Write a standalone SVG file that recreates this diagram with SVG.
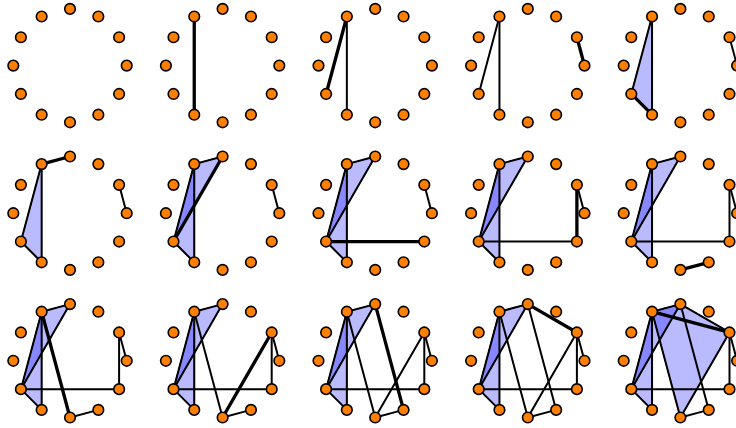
<svg xmlns="http://www.w3.org/2000/svg" width="736" height="428" viewBox="0 0 736 428">
<style>
.tri{fill:#0000ff;fill-opacity:0.27;stroke:#000;stroke-width:1;stroke-linejoin:round}
.e{stroke:#000;stroke-width:2;fill:none;stroke-linecap:round}
.e.new{stroke-width:3.3}
.node circle{fill:#ff8000;stroke:#000;stroke-width:1.6}
</style>
<rect width="736" height="428" fill="#fff"/>
<defs>
<polygon id="t1" points="-28.35,-49.1 -49.1,28.35 -28.35,49.1"/>
<polygon id="t2" points="0,-56.7 -28.35,-49.1 -49.1,28.35"/>
<polygon id="t3" points="0,-56.7 -28.35,-49.1 49.1,-28.35"/>
<polygon id="t4" points="-28.35,-49.1 0,56.7 49.1,-28.35"/>
<path id="e1" d="M-28.35 -49.1L-28.35 49.1"/>
<path id="e2" d="M-28.35 -49.1L-49.1 28.35"/>
<path id="e3" d="M49.1 -28.35L56.7 0"/>
<path id="e4" d="M-49.1 28.35L-28.35 49.1"/>
<path id="e5" d="M-28.35 -49.1L0 -56.7"/>
<path id="e6" d="M0 -56.7L-49.1 28.35"/>
<path id="e7" d="M-49.1 28.35L49.1 28.35"/>
<path id="e8" d="M49.1 -28.35L49.1 28.35"/>
<path id="e9" d="M0 56.7L28.35 49.1"/>
<path id="e10" d="M-28.35 -49.1L0 56.7"/>
<path id="e11" d="M49.1 -28.35L0 56.7"/>
<path id="e12" d="M0 -56.7L28.35 49.1"/>
<path id="e13" d="M0 -56.7L49.1 -28.35"/>
<path id="e14" d="M-28.35 -49.1L49.1 -28.35"/>
</defs>

<g id="panel1" transform="translate(70,65.6)">
<g id="p1-n0" class="node"><circle cx="0" cy="-56.7" r="5.3"/></g>
<g id="p1-n1" class="node"><circle cx="-28.35" cy="-49.1" r="5.3"/></g>
<g id="p1-n2" class="node"><circle cx="-49.1" cy="-28.35" r="5.3"/></g>
<g id="p1-n3" class="node"><circle cx="-56.7" cy="0" r="5.3"/></g>
<g id="p1-n4" class="node"><circle cx="-49.1" cy="28.35" r="5.3"/></g>
<g id="p1-n5" class="node"><circle cx="-28.35" cy="49.1" r="5.3"/></g>
<g id="p1-n6" class="node"><circle cx="0" cy="56.7" r="5.3"/></g>
<g id="p1-n7" class="node"><circle cx="28.35" cy="49.1" r="5.3"/></g>
<g id="p1-n8" class="node"><circle cx="49.1" cy="28.35" r="5.3"/></g>
<g id="p1-n9" class="node"><circle cx="56.7" cy="0" r="5.3"/></g>
<g id="p1-n10" class="node"><circle cx="49.1" cy="-28.35" r="5.3"/></g>
<g id="p1-n11" class="node"><circle cx="28.35" cy="-49.1" r="5.3"/></g>
</g>

<g id="panel2" transform="translate(222.6,65.6)">
<g id="p2-edges" class="connectors">
<use href="#e1" class="e new"/>
</g>
<g id="p2-n0" class="node"><circle cx="0" cy="-56.7" r="5.3"/></g>
<g id="p2-n1" class="node"><circle cx="-28.35" cy="-49.1" r="5.3"/></g>
<g id="p2-n2" class="node"><circle cx="-49.1" cy="-28.35" r="5.3"/></g>
<g id="p2-n3" class="node"><circle cx="-56.7" cy="0" r="5.3"/></g>
<g id="p2-n4" class="node"><circle cx="-49.1" cy="28.35" r="5.3"/></g>
<g id="p2-n5" class="node"><circle cx="-28.35" cy="49.1" r="5.3"/></g>
<g id="p2-n6" class="node"><circle cx="0" cy="56.7" r="5.3"/></g>
<g id="p2-n7" class="node"><circle cx="28.35" cy="49.1" r="5.3"/></g>
<g id="p2-n8" class="node"><circle cx="49.1" cy="28.35" r="5.3"/></g>
<g id="p2-n9" class="node"><circle cx="56.7" cy="0" r="5.3"/></g>
<g id="p2-n10" class="node"><circle cx="49.1" cy="-28.35" r="5.3"/></g>
<g id="p2-n11" class="node"><circle cx="28.35" cy="-49.1" r="5.3"/></g>
</g>

<g id="panel3" transform="translate(375.2,65.6)">
<g id="p3-edges" class="connectors">
<use href="#e1" class="e"/>
<use href="#e2" class="e new"/>
</g>
<g id="p3-n0" class="node"><circle cx="0" cy="-56.7" r="5.3"/></g>
<g id="p3-n1" class="node"><circle cx="-28.35" cy="-49.1" r="5.3"/></g>
<g id="p3-n2" class="node"><circle cx="-49.1" cy="-28.35" r="5.3"/></g>
<g id="p3-n3" class="node"><circle cx="-56.7" cy="0" r="5.3"/></g>
<g id="p3-n4" class="node"><circle cx="-49.1" cy="28.35" r="5.3"/></g>
<g id="p3-n5" class="node"><circle cx="-28.35" cy="49.1" r="5.3"/></g>
<g id="p3-n6" class="node"><circle cx="0" cy="56.7" r="5.3"/></g>
<g id="p3-n7" class="node"><circle cx="28.35" cy="49.1" r="5.3"/></g>
<g id="p3-n8" class="node"><circle cx="49.1" cy="28.35" r="5.3"/></g>
<g id="p3-n9" class="node"><circle cx="56.7" cy="0" r="5.3"/></g>
<g id="p3-n10" class="node"><circle cx="49.1" cy="-28.35" r="5.3"/></g>
<g id="p3-n11" class="node"><circle cx="28.35" cy="-49.1" r="5.3"/></g>
</g>

<g id="panel4" transform="translate(527.8,65.6)">
<g id="p4-edges" class="connectors">
<use href="#e1" class="e"/>
<use href="#e2" class="e"/>
<use href="#e3" class="e new"/>
</g>
<g id="p4-n0" class="node"><circle cx="0" cy="-56.7" r="5.3"/></g>
<g id="p4-n1" class="node"><circle cx="-28.35" cy="-49.1" r="5.3"/></g>
<g id="p4-n2" class="node"><circle cx="-49.1" cy="-28.35" r="5.3"/></g>
<g id="p4-n3" class="node"><circle cx="-56.7" cy="0" r="5.3"/></g>
<g id="p4-n4" class="node"><circle cx="-49.1" cy="28.35" r="5.3"/></g>
<g id="p4-n5" class="node"><circle cx="-28.35" cy="49.1" r="5.3"/></g>
<g id="p4-n6" class="node"><circle cx="0" cy="56.7" r="5.3"/></g>
<g id="p4-n7" class="node"><circle cx="28.35" cy="49.1" r="5.3"/></g>
<g id="p4-n8" class="node"><circle cx="49.1" cy="28.35" r="5.3"/></g>
<g id="p4-n9" class="node"><circle cx="56.7" cy="0" r="5.3"/></g>
<g id="p4-n10" class="node"><circle cx="49.1" cy="-28.35" r="5.3"/></g>
<g id="p4-n11" class="node"><circle cx="28.35" cy="-49.1" r="5.3"/></g>
</g>

<g id="panel5" transform="translate(680.4,65.6)">
<g id="p5-faces"><use href="#t1" class="tri"/></g>
<g id="p5-edges" class="connectors">
<use href="#e1" class="e"/>
<use href="#e2" class="e"/>
<use href="#e3" class="e"/>
<use href="#e4" class="e new"/>
</g>
<g id="p5-n0" class="node"><circle cx="0" cy="-56.7" r="5.3"/></g>
<g id="p5-n1" class="node"><circle cx="-28.35" cy="-49.1" r="5.3"/></g>
<g id="p5-n2" class="node"><circle cx="-49.1" cy="-28.35" r="5.3"/></g>
<g id="p5-n3" class="node"><circle cx="-56.7" cy="0" r="5.3"/></g>
<g id="p5-n4" class="node"><circle cx="-49.1" cy="28.35" r="5.3"/></g>
<g id="p5-n5" class="node"><circle cx="-28.35" cy="49.1" r="5.3"/></g>
<g id="p5-n6" class="node"><circle cx="0" cy="56.7" r="5.3"/></g>
<g id="p5-n7" class="node"><circle cx="28.35" cy="49.1" r="5.3"/></g>
<g id="p5-n8" class="node"><circle cx="49.1" cy="28.35" r="5.3"/></g>
<g id="p5-n9" class="node"><circle cx="56.7" cy="0" r="5.3"/></g>
<g id="p5-n10" class="node"><circle cx="49.1" cy="-28.35" r="5.3"/></g>
<g id="p5-n11" class="node"><circle cx="28.35" cy="-49.1" r="5.3"/></g>
</g>

<g id="panel6" transform="translate(70,213.2)">
<g id="p6-faces"><use href="#t1" class="tri"/></g>
<g id="p6-edges" class="connectors">
<use href="#e1" class="e"/>
<use href="#e2" class="e"/>
<use href="#e3" class="e"/>
<use href="#e4" class="e"/>
<use href="#e5" class="e new"/>
</g>
<g id="p6-n0" class="node"><circle cx="0" cy="-56.7" r="5.3"/></g>
<g id="p6-n1" class="node"><circle cx="-28.35" cy="-49.1" r="5.3"/></g>
<g id="p6-n2" class="node"><circle cx="-49.1" cy="-28.35" r="5.3"/></g>
<g id="p6-n3" class="node"><circle cx="-56.7" cy="0" r="5.3"/></g>
<g id="p6-n4" class="node"><circle cx="-49.1" cy="28.35" r="5.3"/></g>
<g id="p6-n5" class="node"><circle cx="-28.35" cy="49.1" r="5.3"/></g>
<g id="p6-n6" class="node"><circle cx="0" cy="56.7" r="5.3"/></g>
<g id="p6-n7" class="node"><circle cx="28.35" cy="49.1" r="5.3"/></g>
<g id="p6-n8" class="node"><circle cx="49.1" cy="28.35" r="5.3"/></g>
<g id="p6-n9" class="node"><circle cx="56.7" cy="0" r="5.3"/></g>
<g id="p6-n10" class="node"><circle cx="49.1" cy="-28.35" r="5.3"/></g>
<g id="p6-n11" class="node"><circle cx="28.35" cy="-49.1" r="5.3"/></g>
</g>

<g id="panel7" transform="translate(222.6,213.2)">
<g id="p7-faces"><use href="#t1" class="tri"/><use href="#t2" class="tri"/></g>
<g id="p7-edges" class="connectors">
<use href="#e1" class="e"/>
<use href="#e2" class="e"/>
<use href="#e3" class="e"/>
<use href="#e4" class="e"/>
<use href="#e5" class="e"/>
<use href="#e6" class="e new"/>
</g>
<g id="p7-n0" class="node"><circle cx="0" cy="-56.7" r="5.3"/></g>
<g id="p7-n1" class="node"><circle cx="-28.35" cy="-49.1" r="5.3"/></g>
<g id="p7-n2" class="node"><circle cx="-49.1" cy="-28.35" r="5.3"/></g>
<g id="p7-n3" class="node"><circle cx="-56.7" cy="0" r="5.3"/></g>
<g id="p7-n4" class="node"><circle cx="-49.1" cy="28.35" r="5.3"/></g>
<g id="p7-n5" class="node"><circle cx="-28.35" cy="49.1" r="5.3"/></g>
<g id="p7-n6" class="node"><circle cx="0" cy="56.7" r="5.3"/></g>
<g id="p7-n7" class="node"><circle cx="28.35" cy="49.1" r="5.3"/></g>
<g id="p7-n8" class="node"><circle cx="49.1" cy="28.35" r="5.3"/></g>
<g id="p7-n9" class="node"><circle cx="56.7" cy="0" r="5.3"/></g>
<g id="p7-n10" class="node"><circle cx="49.1" cy="-28.35" r="5.3"/></g>
<g id="p7-n11" class="node"><circle cx="28.35" cy="-49.1" r="5.3"/></g>
</g>

<g id="panel8" transform="translate(375.2,213.2)">
<g id="p8-faces"><use href="#t1" class="tri"/><use href="#t2" class="tri"/></g>
<g id="p8-edges" class="connectors">
<use href="#e1" class="e"/>
<use href="#e2" class="e"/>
<use href="#e3" class="e"/>
<use href="#e4" class="e"/>
<use href="#e5" class="e"/>
<use href="#e6" class="e"/>
<use href="#e7" class="e new"/>
</g>
<g id="p8-n0" class="node"><circle cx="0" cy="-56.7" r="5.3"/></g>
<g id="p8-n1" class="node"><circle cx="-28.35" cy="-49.1" r="5.3"/></g>
<g id="p8-n2" class="node"><circle cx="-49.1" cy="-28.35" r="5.3"/></g>
<g id="p8-n3" class="node"><circle cx="-56.7" cy="0" r="5.3"/></g>
<g id="p8-n4" class="node"><circle cx="-49.1" cy="28.35" r="5.3"/></g>
<g id="p8-n5" class="node"><circle cx="-28.35" cy="49.1" r="5.3"/></g>
<g id="p8-n6" class="node"><circle cx="0" cy="56.7" r="5.3"/></g>
<g id="p8-n7" class="node"><circle cx="28.35" cy="49.1" r="5.3"/></g>
<g id="p8-n8" class="node"><circle cx="49.1" cy="28.35" r="5.3"/></g>
<g id="p8-n9" class="node"><circle cx="56.7" cy="0" r="5.3"/></g>
<g id="p8-n10" class="node"><circle cx="49.1" cy="-28.35" r="5.3"/></g>
<g id="p8-n11" class="node"><circle cx="28.35" cy="-49.1" r="5.3"/></g>
</g>

<g id="panel9" transform="translate(527.8,213.2)">
<g id="p9-faces"><use href="#t1" class="tri"/><use href="#t2" class="tri"/></g>
<g id="p9-edges" class="connectors">
<use href="#e1" class="e"/>
<use href="#e2" class="e"/>
<use href="#e3" class="e"/>
<use href="#e4" class="e"/>
<use href="#e5" class="e"/>
<use href="#e6" class="e"/>
<use href="#e7" class="e"/>
<use href="#e8" class="e new"/>
</g>
<g id="p9-n0" class="node"><circle cx="0" cy="-56.7" r="5.3"/></g>
<g id="p9-n1" class="node"><circle cx="-28.35" cy="-49.1" r="5.3"/></g>
<g id="p9-n2" class="node"><circle cx="-49.1" cy="-28.35" r="5.3"/></g>
<g id="p9-n3" class="node"><circle cx="-56.7" cy="0" r="5.3"/></g>
<g id="p9-n4" class="node"><circle cx="-49.1" cy="28.35" r="5.3"/></g>
<g id="p9-n5" class="node"><circle cx="-28.35" cy="49.1" r="5.3"/></g>
<g id="p9-n6" class="node"><circle cx="0" cy="56.7" r="5.3"/></g>
<g id="p9-n7" class="node"><circle cx="28.35" cy="49.1" r="5.3"/></g>
<g id="p9-n8" class="node"><circle cx="49.1" cy="28.35" r="5.3"/></g>
<g id="p9-n9" class="node"><circle cx="56.7" cy="0" r="5.3"/></g>
<g id="p9-n10" class="node"><circle cx="49.1" cy="-28.35" r="5.3"/></g>
<g id="p9-n11" class="node"><circle cx="28.35" cy="-49.1" r="5.3"/></g>
</g>

<g id="panel10" transform="translate(680.4,213.2)">
<g id="p10-faces"><use href="#t1" class="tri"/><use href="#t2" class="tri"/></g>
<g id="p10-edges" class="connectors">
<use href="#e1" class="e"/>
<use href="#e2" class="e"/>
<use href="#e3" class="e"/>
<use href="#e4" class="e"/>
<use href="#e5" class="e"/>
<use href="#e6" class="e"/>
<use href="#e7" class="e"/>
<use href="#e8" class="e"/>
<use href="#e9" class="e new"/>
</g>
<g id="p10-n0" class="node"><circle cx="0" cy="-56.7" r="5.3"/></g>
<g id="p10-n1" class="node"><circle cx="-28.35" cy="-49.1" r="5.3"/></g>
<g id="p10-n2" class="node"><circle cx="-49.1" cy="-28.35" r="5.3"/></g>
<g id="p10-n3" class="node"><circle cx="-56.7" cy="0" r="5.3"/></g>
<g id="p10-n4" class="node"><circle cx="-49.1" cy="28.35" r="5.3"/></g>
<g id="p10-n5" class="node"><circle cx="-28.35" cy="49.1" r="5.3"/></g>
<g id="p10-n6" class="node"><circle cx="0" cy="56.7" r="5.3"/></g>
<g id="p10-n7" class="node"><circle cx="28.35" cy="49.1" r="5.3"/></g>
<g id="p10-n8" class="node"><circle cx="49.1" cy="28.35" r="5.3"/></g>
<g id="p10-n9" class="node"><circle cx="56.7" cy="0" r="5.3"/></g>
<g id="p10-n10" class="node"><circle cx="49.1" cy="-28.35" r="5.3"/></g>
<g id="p10-n11" class="node"><circle cx="28.35" cy="-49.1" r="5.3"/></g>
</g>

<g id="panel11" transform="translate(70,360.8)">
<g id="p11-faces"><use href="#t1" class="tri"/><use href="#t2" class="tri"/></g>
<g id="p11-edges" class="connectors">
<use href="#e1" class="e"/>
<use href="#e2" class="e"/>
<use href="#e3" class="e"/>
<use href="#e4" class="e"/>
<use href="#e5" class="e"/>
<use href="#e6" class="e"/>
<use href="#e7" class="e"/>
<use href="#e8" class="e"/>
<use href="#e9" class="e"/>
<use href="#e10" class="e new"/>
</g>
<g id="p11-n0" class="node"><circle cx="0" cy="-56.7" r="5.3"/></g>
<g id="p11-n1" class="node"><circle cx="-28.35" cy="-49.1" r="5.3"/></g>
<g id="p11-n2" class="node"><circle cx="-49.1" cy="-28.35" r="5.3"/></g>
<g id="p11-n3" class="node"><circle cx="-56.7" cy="0" r="5.3"/></g>
<g id="p11-n4" class="node"><circle cx="-49.1" cy="28.35" r="5.3"/></g>
<g id="p11-n5" class="node"><circle cx="-28.35" cy="49.1" r="5.3"/></g>
<g id="p11-n6" class="node"><circle cx="0" cy="56.7" r="5.3"/></g>
<g id="p11-n7" class="node"><circle cx="28.35" cy="49.1" r="5.3"/></g>
<g id="p11-n8" class="node"><circle cx="49.1" cy="28.35" r="5.3"/></g>
<g id="p11-n9" class="node"><circle cx="56.7" cy="0" r="5.3"/></g>
<g id="p11-n10" class="node"><circle cx="49.1" cy="-28.35" r="5.3"/></g>
<g id="p11-n11" class="node"><circle cx="28.35" cy="-49.1" r="5.3"/></g>
</g>

<g id="panel12" transform="translate(222.6,360.8)">
<g id="p12-faces"><use href="#t1" class="tri"/><use href="#t2" class="tri"/></g>
<g id="p12-edges" class="connectors">
<use href="#e1" class="e"/>
<use href="#e2" class="e"/>
<use href="#e3" class="e"/>
<use href="#e4" class="e"/>
<use href="#e5" class="e"/>
<use href="#e6" class="e"/>
<use href="#e7" class="e"/>
<use href="#e8" class="e"/>
<use href="#e9" class="e"/>
<use href="#e10" class="e"/>
<use href="#e11" class="e new"/>
</g>
<g id="p12-n0" class="node"><circle cx="0" cy="-56.7" r="5.3"/></g>
<g id="p12-n1" class="node"><circle cx="-28.35" cy="-49.1" r="5.3"/></g>
<g id="p12-n2" class="node"><circle cx="-49.1" cy="-28.35" r="5.3"/></g>
<g id="p12-n3" class="node"><circle cx="-56.7" cy="0" r="5.3"/></g>
<g id="p12-n4" class="node"><circle cx="-49.1" cy="28.35" r="5.3"/></g>
<g id="p12-n5" class="node"><circle cx="-28.35" cy="49.1" r="5.3"/></g>
<g id="p12-n6" class="node"><circle cx="0" cy="56.7" r="5.3"/></g>
<g id="p12-n7" class="node"><circle cx="28.35" cy="49.1" r="5.3"/></g>
<g id="p12-n8" class="node"><circle cx="49.1" cy="28.35" r="5.3"/></g>
<g id="p12-n9" class="node"><circle cx="56.7" cy="0" r="5.3"/></g>
<g id="p12-n10" class="node"><circle cx="49.1" cy="-28.35" r="5.3"/></g>
<g id="p12-n11" class="node"><circle cx="28.35" cy="-49.1" r="5.3"/></g>
</g>

<g id="panel13" transform="translate(375.2,360.8)">
<g id="p13-faces"><use href="#t1" class="tri"/><use href="#t2" class="tri"/></g>
<g id="p13-edges" class="connectors">
<use href="#e1" class="e"/>
<use href="#e2" class="e"/>
<use href="#e3" class="e"/>
<use href="#e4" class="e"/>
<use href="#e5" class="e"/>
<use href="#e6" class="e"/>
<use href="#e7" class="e"/>
<use href="#e8" class="e"/>
<use href="#e9" class="e"/>
<use href="#e10" class="e"/>
<use href="#e11" class="e"/>
<use href="#e12" class="e new"/>
</g>
<g id="p13-n0" class="node"><circle cx="0" cy="-56.7" r="5.3"/></g>
<g id="p13-n1" class="node"><circle cx="-28.35" cy="-49.1" r="5.3"/></g>
<g id="p13-n2" class="node"><circle cx="-49.1" cy="-28.35" r="5.3"/></g>
<g id="p13-n3" class="node"><circle cx="-56.7" cy="0" r="5.3"/></g>
<g id="p13-n4" class="node"><circle cx="-49.1" cy="28.35" r="5.3"/></g>
<g id="p13-n5" class="node"><circle cx="-28.35" cy="49.1" r="5.3"/></g>
<g id="p13-n6" class="node"><circle cx="0" cy="56.7" r="5.3"/></g>
<g id="p13-n7" class="node"><circle cx="28.35" cy="49.1" r="5.3"/></g>
<g id="p13-n8" class="node"><circle cx="49.1" cy="28.35" r="5.3"/></g>
<g id="p13-n9" class="node"><circle cx="56.7" cy="0" r="5.3"/></g>
<g id="p13-n10" class="node"><circle cx="49.1" cy="-28.35" r="5.3"/></g>
<g id="p13-n11" class="node"><circle cx="28.35" cy="-49.1" r="5.3"/></g>
</g>

<g id="panel14" transform="translate(527.8,360.8)">
<g id="p14-faces"><use href="#t1" class="tri"/><use href="#t2" class="tri"/></g>
<g id="p14-edges" class="connectors">
<use href="#e1" class="e"/>
<use href="#e2" class="e"/>
<use href="#e3" class="e"/>
<use href="#e4" class="e"/>
<use href="#e5" class="e"/>
<use href="#e6" class="e"/>
<use href="#e7" class="e"/>
<use href="#e8" class="e"/>
<use href="#e9" class="e"/>
<use href="#e10" class="e"/>
<use href="#e11" class="e"/>
<use href="#e12" class="e"/>
<use href="#e13" class="e new"/>
</g>
<g id="p14-n0" class="node"><circle cx="0" cy="-56.7" r="5.3"/></g>
<g id="p14-n1" class="node"><circle cx="-28.35" cy="-49.1" r="5.3"/></g>
<g id="p14-n2" class="node"><circle cx="-49.1" cy="-28.35" r="5.3"/></g>
<g id="p14-n3" class="node"><circle cx="-56.7" cy="0" r="5.3"/></g>
<g id="p14-n4" class="node"><circle cx="-49.1" cy="28.35" r="5.3"/></g>
<g id="p14-n5" class="node"><circle cx="-28.35" cy="49.1" r="5.3"/></g>
<g id="p14-n6" class="node"><circle cx="0" cy="56.7" r="5.3"/></g>
<g id="p14-n7" class="node"><circle cx="28.35" cy="49.1" r="5.3"/></g>
<g id="p14-n8" class="node"><circle cx="49.1" cy="28.35" r="5.3"/></g>
<g id="p14-n9" class="node"><circle cx="56.7" cy="0" r="5.3"/></g>
<g id="p14-n10" class="node"><circle cx="49.1" cy="-28.35" r="5.3"/></g>
<g id="p14-n11" class="node"><circle cx="28.35" cy="-49.1" r="5.3"/></g>
</g>

<g id="panel15" transform="translate(680.4,360.8)">
<g id="p15-faces"><use href="#t1" class="tri"/><use href="#t2" class="tri"/><use href="#t3" class="tri"/><use href="#t4" class="tri"/></g>
<g id="p15-edges" class="connectors">
<use href="#e1" class="e"/>
<use href="#e2" class="e"/>
<use href="#e3" class="e"/>
<use href="#e4" class="e"/>
<use href="#e5" class="e"/>
<use href="#e6" class="e"/>
<use href="#e7" class="e"/>
<use href="#e8" class="e"/>
<use href="#e9" class="e"/>
<use href="#e10" class="e"/>
<use href="#e11" class="e"/>
<use href="#e12" class="e"/>
<use href="#e13" class="e"/>
<use href="#e14" class="e new"/>
</g>
<g id="p15-n0" class="node"><circle cx="0" cy="-56.7" r="5.3"/></g>
<g id="p15-n1" class="node"><circle cx="-28.35" cy="-49.1" r="5.3"/></g>
<g id="p15-n2" class="node"><circle cx="-49.1" cy="-28.35" r="5.3"/></g>
<g id="p15-n3" class="node"><circle cx="-56.7" cy="0" r="5.3"/></g>
<g id="p15-n4" class="node"><circle cx="-49.1" cy="28.35" r="5.3"/></g>
<g id="p15-n5" class="node"><circle cx="-28.35" cy="49.1" r="5.3"/></g>
<g id="p15-n6" class="node"><circle cx="0" cy="56.7" r="5.3"/></g>
<g id="p15-n7" class="node"><circle cx="28.35" cy="49.1" r="5.3"/></g>
<g id="p15-n8" class="node"><circle cx="49.1" cy="28.35" r="5.3"/></g>
<g id="p15-n9" class="node"><circle cx="56.7" cy="0" r="5.3"/></g>
<g id="p15-n10" class="node"><circle cx="49.1" cy="-28.35" r="5.3"/></g>
<g id="p15-n11" class="node"><circle cx="28.35" cy="-49.1" r="5.3"/></g>
</g>
</svg>
